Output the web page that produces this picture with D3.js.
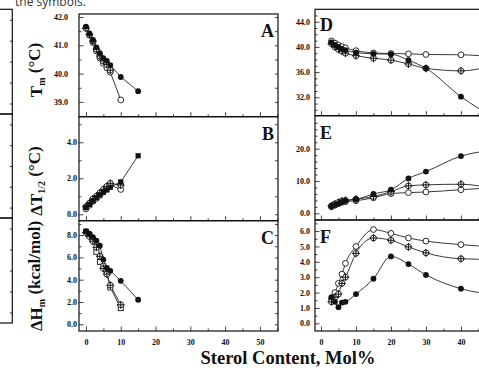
<!DOCTYPE html>
<html>
<head>
<meta charset="utf-8">
<script src="https://cdn.jsdelivr.net/npm/d3@7"></script>
<style>
  body { margin: 0; background: #fff; }
  svg { display: block; }
</style>
</head>
<body>
<div id="chart"></div>
<script>
// ---- data ----
// sterol content, mol%
const concLeft = [0, 1, 2, 3, 4, 5, 6, 7, 10, 15];
const concRight = [3, 4, 5, 6, 7, 10, 15, 20, 25, 30, 40, 50];

// A: Tm (C)
const tmFilled = [41.66, 41.42, 41.19, 40.93, 40.72, 40.55, 40.45, 40.3, 39.88, 39.38];
const tmOpen = [41.62, 41.36, 41.1, 40.8, 40.55, 40.36, 40.2, 40.05, 39.07];
const tmPlus = [41.6, 41.38, 41.15, 40.86, 40.62, 40.45, 40.32, 40.12];

// B: dT1/2 (C)
const dtFilled = [0.38, 0.55, 0.75, 0.92, 1.08, 1.22, 1.35, 1.5, 1.8, 3.25];
const dtOpen = [0.3, 0.5, 0.72, 0.88, 1.05, 1.25, 1.42, 1.62, 1.38];
const dtPlus = [0.42, 0.62, 0.85, 1.0, 1.18, 1.38, 1.55, 1.72, 1.62];

// C: dHm (kcal/mol)
const dhFilled = [8.35, 8.12, 7.82, 7.5, 7.05, 5.8, 5.05, 4.8, 3.9, 2.2];
const dhOpen = [8.3, 7.98, 7.6, 6.5, 5.6, 5.2, 4.6, 3.3, 1.45];
const dhPlus = [8.22, 7.88, 7.45, 6.9, 6.1, 5.0, 4.5, 3.5, 1.75];

// D
const dOpen = [40.95, 40.6, 40.3, 40.05, 39.85, 39.4, 39.05, 38.95, 38.9, 38.8, 38.75, 38.4];
const dFilled = [40.7, 40.3, 40.0, 39.7, 39.5, 39.1, 38.9, 38.85, 37.9, 36.6, 32.1, 28.6];
const dPlus = [40.5, 40.0, 39.6, 39.3, 39.0, 38.6, 38.2, 37.9, 37.3, 36.6, 36.2, 37.2];

// E
const eFilled = [2.2, 2.6, 3.0, 3.5, 3.9, 4.3, 6.0, 7.3, 10.8, 12.9, 17.7, 19.6];
const ePlus = [2.3, 2.9, 3.4, 3.8, 4.0, 4.4, 5.2, 6.7, 8.5, 8.8, 9.0, 7.4];
const eOpen = [2.0, 2.5, 3.0, 3.4, 3.6, 3.9, 4.8, 6.1, 6.4, 6.6, 7.3, 8.0];

// F
const fOpen = [1.6, 2.0, 2.6, 3.2, 3.9, 5.0, 6.1, 5.85, 5.55, 5.35, 5.12, 4.95];
const fPlus = [1.4, 1.7, 1.9, 2.6, 3.0, 4.55, 5.55, 5.4, 4.97, 4.58, 4.2, 4.15];
const fFilled = [1.7, 1.4, 1.05, 1.35, 1.4, 1.9, 2.9, 4.35, 3.85, 3.15, 2.25, 1.85];

// ticks
const xMajorLeft = [0, 10, 20, 30, 40, 50];
const xMinorLeft = [5, 15, 25, 35, 45, 55];
const xMajorRight = [0, 10, 20, 30, 40];
const xMinorRight = [5, 15, 25, 35, 45];

const yTicksA = [39, 40, 41, 42], yMinorA = [38.5, 39.5, 40.5, 41.5];
const yTicksB = [0, 2, 4], yMinorB = [1, 3, 5];
const yTicksC = [0, 2, 4, 6, 8], yMinorC = [1, 3, 5, 7, 9];
const yTicksD = [32, 36, 40, 44], yMinorD = [30, 31, 33, 34, 35, 37, 38, 39, 41, 42, 43, 45];
const yTicksE = [0, 10, 20], yMinorE = [2, 4, 6, 8, 12, 14, 16, 18, 22, 24, 26, 28];
const yTicksF = [0, 1, 2, 3, 4, 5, 6], yMinorF = [0.5, 1.5, 2.5, 3.5, 4.5, 5.5, 6.5];

const serif = "'Liberation Serif', 'Times New Roman', serif";
const ink = "#111";

let svg = d3.select("#chart")
  .append("svg")
  .attr("width", 479)
  .attr("height", 368);

// Step 1: x scales for the two columns
let xLeft = d3.scaleLinear().domain([-2, 55.2]).range([79, 278]);
let xRight = d3.scaleLinear().domain([-1.7, 48.3]).range([315, 490]);

const panels = [
  { letter: "A", x: xLeft, top: 14, bottom: 116.7, dom: [38.477, 42.106], major: yTicksA, minor: yMinorA, pad: 11,
    xl: false, left: true, smooth: false,
    series: [[tmOpen, "open"], [tmPlus, "plus"], [tmFilled, "filled"]] },
  { letter: "B", x: xLeft, top: 116.7, bottom: 220.7, dom: [-0.356, 5.42], major: yTicksB, minor: yMinorB, pad: 2,
    xl: false, left: true, smooth: false,
    series: [[dtOpen, "open"], [dtPlus, "plus"], [dtFilled, "square"]] },
  { letter: "C", x: xLeft, top: 220.7, bottom: 331, dom: [-0.6, 9.29], major: yTicksC, minor: yMinorC, pad: 2,
    xl: true, left: true, smooth: false,
    series: [[dhOpen, "opensq"], [dhPlus, "plus"], [dhFilled, "filled"]] },
  { letter: "D", x: xRight, top: 9.3, bottom: 115.7, dom: [29.08, 45.97], major: yTicksD, minor: yMinorD, pad: 5,
    xl: false, left: false, smooth: true,
    series: [[dOpen, "open"], [dPlus, "plus"], [dFilled, "filled"]] },
  { letter: "E", x: xRight, top: 115.7, bottom: 220, dom: [-2.07, 30.2], major: yTicksE, minor: yMinorE, pad: 5,
    xl: false, left: false, smooth: true,
    series: [[eOpen, "open"], [ePlus, "plus"], [eFilled, "filled"]] },
  { letter: "F", x: xRight, top: 220, bottom: 331, dom: [-0.5, 6.72], major: yTicksF, minor: yMinorF, pad: 5,
    xl: true, left: false, smooth: true,
    series: [[fOpen, "open"], [fPlus, "plus"], [fFilled, "filled"]] }
];

function styleAxis(g) {
  g.select(".domain").remove();
  g.selectAll("line").attr("stroke", ink).attr("stroke-width", 0.8);
  g.selectAll("text")
    .attr("fill", ink)
    .style("font-family", serif)
    .style("font-weight", "bold")
    .style("font-size", "8px");
}

function drawMarker(g, cx, cy, type) {
  let r = 2.9;
  if (type === "filled") {
    g.append("circle").attr("cx", cx).attr("cy", cy).attr("r", r).attr("fill", ink);
  } else if (type === "open") {
    g.append("circle").attr("cx", cx).attr("cy", cy).attr("r", r)
      .attr("fill", "#fff").attr("stroke", ink).attr("stroke-width", 0.9);
  } else if (type === "plus") {
    g.append("circle").attr("cx", cx).attr("cy", cy).attr("r", r)
      .attr("fill", "#fff").attr("stroke", ink).attr("stroke-width", 0.9);
    g.append("path")
      .attr("d", `M${cx - r - 1},${cy}H${cx + r + 1}M${cx},${cy - r - 1}V${cy + r + 1}`)
      .attr("stroke", ink).attr("stroke-width", 1);
  } else if (type === "square") {
    g.append("rect").attr("x", cx - 2.6).attr("y", cy - 2.6).attr("width", 5.2).attr("height", 5.2).attr("fill", ink);
  } else if (type === "opensq") {
    g.append("rect").attr("x", cx - 2.5).attr("y", cy - 2.5).attr("width", 5).attr("height", 5)
      .attr("fill", "#fff").attr("stroke", ink).attr("stroke-width", 0.9);
  }
}

// Step 2: draw every panel
panels.forEach((p, i) => {
  let x = p.x;
  let y = d3.scaleLinear().domain(p.dom).range([p.bottom, p.top]);
  let x0 = x.range()[0], x1 = x.range()[1];
  let g = svg.append("g").attr("class", "panel-" + p.letter);

  g.append("clipPath").attr("id", "clip" + i)
    .append("rect").attr("x", x0).attr("y", p.top).attr("width", x1 - x0).attr("height", p.bottom - p.top);

  // axes, ticks pointing inward
  g.append("g").attr("transform", `translate(${x0},0)`)
    .call(d3.axisLeft(y).tickValues(p.minor).tickSize(-2.5).tickFormat(""))
    .call(styleAxis);
  g.append("g").attr("transform", `translate(${x0},0)`)
    .call(d3.axisLeft(y).tickValues(p.major).tickSize(-4.5).tickPadding(p.pad).tickFormat(d3.format(".1f")))
    .call(styleAxis);

  if (p.left) {
    g.append("g").attr("transform", `translate(${x1},0)`)
      .call(d3.axisRight(y).tickValues(p.major.concat(p.minor)).tickSize(-3).tickFormat(""))
      .call(styleAxis);
  }

  let xMajor = p.left ? xMajorLeft : xMajorRight;
  let xMinor = p.left ? xMinorLeft : xMinorRight;
  g.append("g").attr("transform", `translate(0,${p.bottom})`)
    .call(d3.axisBottom(x).tickValues(xMinor).tickSize(-2.5).tickFormat(""))
    .call(styleAxis);
  g.append("g").attr("transform", `translate(0,${p.bottom})`)
    .call(d3.axisBottom(x).tickValues(xMajor).tickSize(-4.5).tickPadding(8)
      .tickFormat(p.xl ? d3.format("d") : ""))
    .call(styleAxis);

  // frame
  g.append("rect")
    .attr("x", x0).attr("y", p.top)
    .attr("width", x1 - x0).attr("height", p.bottom - p.top)
    .attr("fill", "none").attr("stroke", ink).attr("stroke-width", 1.2);

  // series
  let conc = p.left ? concLeft : concRight;
  let plot = g.append("g").attr("clip-path", `url(#clip${i})`);
  let line = d3.line()
    .x(d => x(d[0]))
    .y(d => y(d[1]))
    .curve(p.smooth ? d3.curveMonotoneX : d3.curveLinear);

  p.series.forEach(s => {
    let pts = s[0].map((v, k) => [conc[k], v]);
    plot.append("path")
      .datum(pts)
      .attr("fill", "none")
      .attr("stroke", "#222")
      .attr("stroke-width", 0.9)
      .attr("d", line);
  });
  p.series.forEach(s => {
    s[0].forEach((v, k) => drawMarker(plot, x(conc[k]), y(v), s[1]));
  });

  // panel letter
  let lx = p.left ? x1 - 4 : x0 + 5;
  g.append("text")
    .attr("x", lx)
    .attr("y", p.top + (p.letter === "D" ? 22 : 23))
    .attr("text-anchor", p.left ? "end" : "start")
    .style("font-family", serif)
    .style("font-weight", "bold")
    .style("font-size", "18px")
    .attr("fill", ink)
    .text(p.letter);
});

// Step 3: y axis titles (rotated)
const yTitles = [
  { cy: 70, main: "T", sub: "m", rest: " (°C)" },
  { cy: 181, main: "ΔT", sub: "1/2", rest: " (°C)" },
  { cy: 276, main: "ΔH", sub: "m", rest: " (kcal/mol)" }
];
yTitles.forEach(t => {
  let txt = svg.append("text")
    .attr("transform", `translate(42,${t.cy}) rotate(-90)`)
    .attr("text-anchor", "middle")
    .style("font-family", serif)
    .style("font-weight", "bold")
    .style("font-size", "17px")
    .attr("fill", ink);
  txt.append("tspan").text(t.main);
  txt.append("tspan").attr("dy", "0.3em").style("font-size", "10px").text(t.sub);
  txt.append("tspan").attr("dy", "-0.3em").text(t.rest);
});

// x axis title
svg.append("text")
  .attr("x", 288)
  .attr("y", 364)
  .attr("text-anchor", "middle")
  .style("font-family", serif)
  .style("font-weight", "bold")
  .style("font-size", "18.5px")
  .attr("fill", ink)
  .text("Sterol Content, Mol%");

// Step 4: cropped neighbouring figure on the far left
const stripBoxes = [[9.3, 114], [114, 218], [218, 323]];
stripBoxes.forEach(b => {
  let s = d3.scaleLinear().domain([0, 10]).range([b[1], b[0]]);
  svg.append("g").attr("transform", "translate(12.3,0)")
    .call(d3.axisLeft(s).tickValues([1, 3, 5, 7, 9]).tickSize(2.5).tickFormat(""))
    .call(styleAxis);
  svg.append("rect")
    .attr("x", -2).attr("y", b[0])
    .attr("width", 14.3).attr("height", b[1] - b[0])
    .attr("fill", "none").attr("stroke", ink).attr("stroke-width", 1.2);
});

// caption fragment at the top edge
svg.append("text")
  .attr("x", 15)
  .attr("y", 6)
  .style("font-family", "'Open Sans', sans-serif")
  .style("font-size", "12px")
  .attr("fill", "#333")
  .text("the symbols.");
</script>
</body>
</html>
